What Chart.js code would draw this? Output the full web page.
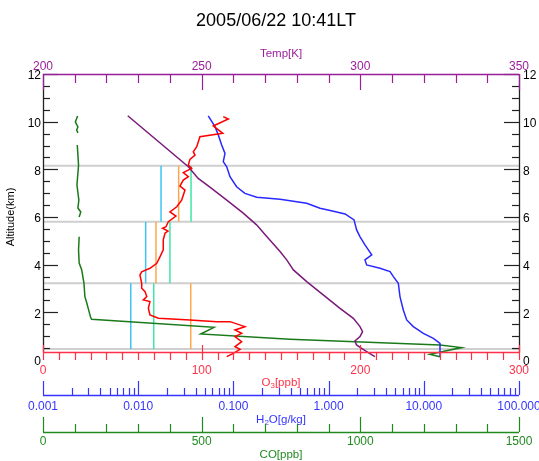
<!DOCTYPE html>
<html><head><meta charset="utf-8">
<script src="https://cdn.jsdelivr.net/npm/chart.js@4"></script>
<style>html,body{margin:0;padding:0;background:#fff}canvas{display:block}</style>
</head><body>
<canvas id="c" width="539" height="461"></canvas>
<script>
// ---------- data ----------
const titleText = '2005/06/22 10:41LT';

// O3 [ppb] profile
const o3Alt = [10.21,10.11,9.82,9.51,9.37,8.95,8.74,8.60,8.42,8.18,8.04,7.86,7.69,7.55,7.30,7.13,6.71,6.43,6.21,6.04,5.80,5.59,5.53,5.41,5.32,5.04,4.62,4.33,4.06,3.85,3.70,3.57,3.22,3.01,2.87,2.66,2.52,2.45,2.17,1.89,1.75,1.68,1.61,1.61,1.40,1.26,1.12,0.98,0.77,0.56,0.45,0.28,0.14];
const o3Val = [113.6,116.8,107.3,113.3,98.9,96.9,94.7,95.8,92.6,91.6,93.7,88.4,91.6,88.4,86.3,89.5,87.4,84.3,80.0,83.8,79.0,77.5,75.4,78.8,76.9,75.8,75.8,73.7,71.7,67.4,62.2,61.1,62.2,62.2,64.3,65.4,63.2,67.4,66.4,67.4,72.7,92.6,109.5,117.9,127.3,121.0,125.2,121.0,125.2,121.0,124.2,119.9,115.8];

// Temperature [K] profile
const tAlt = [10.25,8.11,7.62,7.25,6.71,6.16,5.67,5.18,4.55,4.20,3.78,3.29,2.73,2.17,1.75,1.40,1.19,0.98,0.80,0.63,0.49,0.31,0.14];
const tVal = [226.7,245.8,248.9,252.6,257.9,263.1,267.3,270.5,274.7,276.8,278.9,283.1,288.3,293.6,297.8,299.9,300.7,299.9,298.3,298.8,300.4,302.5,304.6];

// H2O [g/kg] profile
const h2oAlt = [10.24,9.79,9.44,9.02,8.67,8.32,8.11,7.69,7.27,6.99,6.83,6.74,6.58,6.37,6.27,6.13,5.88,5.46,5.17,4.83,4.41,4.20,3.99,3.85,3.71,3.50,3.22,2.66,2.10,1.68,1.40,1.12,0.91,0.70,0.14];
const h2oVal = [0.0544,0.0641,0.0694,0.0753,0.0816,0.0783,0.0851,0.0921,0.108,0.132,0.176,0.309,0.589,0.813,1.04,1.49,1.85,1.97,2.14,2.41,2.84,2.41,2.51,3.47,4.42,4.79,5.40,5.62,6.09,6.61,7.76,9.89,12.6,14.8,14.8];

// CO [ppb] profile (null = missing data)
const coAlt = [10.24,9.99,9.78,9.65,9.53,9.30,9.02,8.18,7.34,6.71,6.38,6.21,6.00,5.60,5.17,4.62,4.07,3.78,3.23,2.66,2.39,1.79,1.71,1.37,1.09,0.87,0.63,0.52,0.24,0.14];
const coVal = [109,102,110,106,110,null,108,112,107,113,110,119,114,null,114,112,114,122,129,132,138,150,153,539,497,778,1251,1319,1219,1251];

// layer boundaries [km] and layer-mean O3 [ppb]
const layerBounds = [0.46, 3.22, 5.80, 8.15];
const layerCyan   = [55.3, 64.7, 74.4];
const layerGreen  = [69.8, 80.0, 93.3];
const layerOrange = [93.1, 71.2, 85.5];

// tick labels
const altTicks  = [0,2,4,6,8,10,12];
const tempTicks = [200,250,300,350];
const o3Ticks   = [0,100,200,300];
const h2oTicks  = [0.001,0.01,0.1,1,10,100];
const h2oTickLabels = ['0.001','0.010','0.100','1.000','10.000','100.000'];
const coTicks   = [0,500,1000,1500];

// ---------- colours ----------
const C_RED='#ff0000', C_BLUE='#2828ff', C_PURPLE='#7a1a7a', C_GREEN='#1a7a1a';
const A_RED='#ff3048', A_BLUE='#3535ff', A_PURPLE='#9a1e9a', A_GREEN='#208a20';

const zip = (xs, ys) => xs.map((x,i)=>({x:x, y:ys[i]}));

const datasets = [];
// gray layer boundaries
layerBounds.forEach(h=>{
  datasets.push({data:[{x:0,y:h},{x:300,y:h}], xAxisID:'xO3', borderColor:'#cfcfcf', borderWidth:2, order:20});
});
// layer vertical lines
for(let i=0;i<3;i++){
  const lo=layerBounds[i], hi=layerBounds[i+1];
  datasets.push({data:[{x:layerCyan[i],y:lo},{x:layerCyan[i],y:hi}], xAxisID:'xO3', borderColor:'#3cc4f4', borderWidth:1.5, order:15});
  datasets.push({data:[{x:layerGreen[i],y:lo},{x:layerGreen[i],y:hi}], xAxisID:'xO3', borderColor:'#3ee6a6', borderWidth:1.5, order:15});
  datasets.push({data:[{x:layerOrange[i],y:lo},{x:layerOrange[i],y:hi}], xAxisID:'xO3', borderColor:'#ffa54a', borderWidth:1.5, order:15});
}
datasets.push({data:zip(coVal,coAlt), xAxisID:'xCO', borderColor:C_GREEN, borderWidth:1.5, spanGaps:false, order:4});
datasets.push({data:zip(tVal,tAlt), xAxisID:'xT', borderColor:C_PURPLE, borderWidth:1.5, order:3});
datasets.push({data:zip(h2oVal,h2oAlt), xAxisID:'xH', borderColor:C_BLUE, borderWidth:1.5, order:2});
datasets.push({data:zip(o3Val,o3Alt), xAxisID:'xO3', borderColor:C_RED, borderWidth:1.5, order:1});
datasets.forEach(d=>{d.yAxisID='y'; d.showLine=true; d.pointRadius=0; d.pointHoverRadius=0; d.fill=false; d.tension=0;});

const FONT = '"Liberation Sans", Arial, Helvetica, sans-serif';

function drawText(ctx, txt, x, y, color, size, align, base){
  ctx.fillStyle=color; ctx.font=size+'px '+FONT; ctx.textAlign=align||'center'; ctx.textBaseline=base||'middle';
  ctx.fillText(txt,x,y);
}
function drawSubTitle(ctx, parts, cx, cy, color, size){
  // parts: [[text, isSub], ...]
  ctx.font=size+'px '+FONT;
  const sub=Math.round(size*0.7);
  let w=0;
  parts.forEach(p=>{ctx.font=(p[1]?sub:size)+'px '+FONT; w+=ctx.measureText(p[0]).width;});
  let x=cx-w/2;
  ctx.fillStyle=color; ctx.textAlign='left'; ctx.textBaseline='middle';
  parts.forEach(p=>{
    ctx.font=(p[1]?sub:size)+'px '+FONT;
    ctx.fillText(p[0], x, p[1]? cy+3 : cy);
    x+=ctx.measureText(p[0]).width;
  });
}
function line(ctx,x1,y1,x2,y2,color,w){
  ctx.strokeStyle=color; ctx.lineWidth=w||1; ctx.beginPath(); ctx.moveTo(x1,y1); ctx.lineTo(x2,y2); ctx.stroke();
}
const px = v => Math.round(v)+0.5;

const axesPlugin = {
  id:'idlAxes',
  afterDraw(chart){
    const ctx=chart.ctx, a=chart.chartArea, s=chart.scales;
    ctx.save();
    // title
    drawText(ctx, titleText, 276, 21, '#000', 18);

    // left / right altitude axes
    const yTop=a.top, yAxBot=352;
    line(ctx, px(a.left), yTop, px(a.left), yAxBot, '#222', 1.3);
    line(ctx, px(a.right), yTop, px(a.right), yAxBot, '#222', 1.3);
    for(let h=0; h<=12.001; h+=0.5){
      const y=px(s.y.getPixelForValue(h));
      if(y>yAxBot) continue;
      const major = Math.abs(h/2-Math.round(h/2))<1e-6;
      const L = major?15:7;
      line(ctx, a.left, y, a.left+L, y, '#222', 1.2);
      line(ctx, a.right-L, y, a.right, y, '#222', 1.2);
    }
    altTicks.forEach(h=>{
      const y=s.y.getPixelForValue(h)+2;
      drawText(ctx, String(h), 41, y, '#000', 12, 'right');
      drawText(ctx, String(h), 523, y, '#000', 12, 'left');
    });
    // altitude title
    ctx.save(); ctx.translate(11, 217); ctx.rotate(-Math.PI/2);
    drawText(ctx, 'Altitude(km)', 0, 0, '#000', 11);
    ctx.restore();

    // top temperature axis
    line(ctx, a.left, px(a.top), a.right, px(a.top), A_PURPLE, 1.5);
    for(let t=200;t<=350;t+=10){
      const x=px(s.xT.getPixelForValue(t));
      const major = t%50===0;
      line(ctx, x, a.top, x, a.top+(major?16:9), A_PURPLE, 1.2);
    }
    tempTicks.forEach(t=>drawText(ctx, String(t), s.xT.getPixelForValue(t), 67, A_PURPLE, 12));
    drawText(ctx, 'Temp[K]', (a.left+a.right)/2, 54, A_PURPLE, 11.5);

    // O3 axis
    const yO=px(352);
    line(ctx, a.left, yO, a.right, yO, A_RED, 1.3);
    for(let v=0; v<=300; v+=10){
      const x=px(s.xO3.getPixelForValue(v));
      const major = v%100===0;
      line(ctx, x, major?345:352, x, 360, A_RED, 1.2);
    }
    o3Ticks.forEach(v=>drawText(ctx, String(v), s.xO3.getPixelForValue(v), 371, A_RED, 12));
    drawSubTitle(ctx, [['O',false],['3',true],['[ppb]',false]], (a.left+a.right)/2, 383, A_RED, 11.5);

    // H2O axis
    const yH=px(395);
    line(ctx, a.left, yH, a.right, yH, A_BLUE, 1.3);
    for(let e=-3; e<=2; e++){
      for(let m=1; m<=9; m++){
        const v=m*Math.pow(10,e);
        if(v>100.0001) break;
        const x=px(s.xH.getPixelForValue(v));
        line(ctx, x, 395-(m===1?14:7), x, 395, A_BLUE, 1.2);
      }
    }
    h2oTicks.forEach((v,i)=>drawText(ctx, h2oTickLabels[i], s.xH.getPixelForValue(v), 407, A_BLUE, 12));
    drawSubTitle(ctx, [['H',false],['2',true],['O[g/kg]',false]], (a.left+a.right)/2, 420, A_BLUE, 11.5);

    // CO axis
    const yC=px(432);
    line(ctx, a.left, yC, a.right, yC, A_GREEN, 1.3);
    for(let v=0; v<=1500; v+=100){
      const x=px(s.xCO.getPixelForValue(v));
      line(ctx, x, 432-(v%500===0?15:8), x, 432, A_GREEN, 1.2);
    }
    coTicks.forEach(v=>drawText(ctx, String(v), s.xCO.getPixelForValue(v), 442, A_GREEN, 12));
    drawText(ctx, 'CO[ppb]', (a.left+a.right)/2, 455, A_GREEN, 11.5);
    ctx.restore();
  }
};

new Chart(document.getElementById('c'), {
  type:'scatter',
  data:{datasets},
  options:{
    responsive:false, animation:false, devicePixelRatio:1,
    layout:{padding:{left:43, right:20, top:74, bottom:101}},
    plugins:{legend:{display:false}, title:{display:false}, tooltip:{enabled:false}},
    events:[],
    scales:{
      y:{type:'linear', min:0, max:12, display:false},
      xO3:{type:'linear', position:'bottom', min:0, max:300, display:false},
      xT:{type:'linear', position:'top', min:200, max:350, display:false},
      xH:{type:'logarithmic', position:'bottom', min:0.001, max:100, display:false},
      xCO:{type:'linear', position:'bottom', min:0, max:1500, display:false}
    }
  },
  plugins:[axesPlugin]
});
</script>
</body></html>
